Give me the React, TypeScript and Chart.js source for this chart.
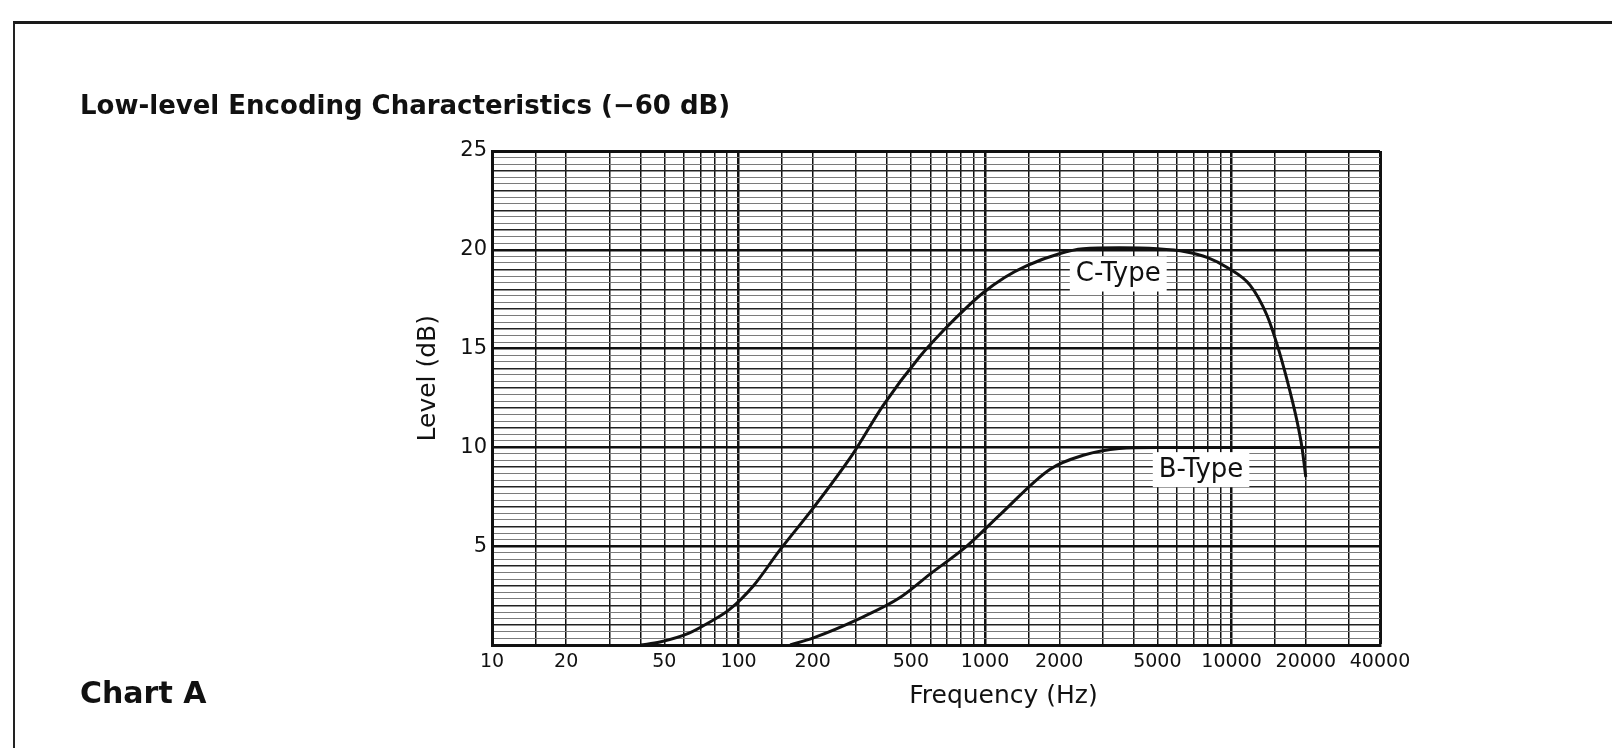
import React, { useEffect, useRef } from 'react';
import { Chart, registerables } from 'chart.js';

Chart.register(...registerables);

// ---- data ----
const C_TYPE_FREQ = [40, 48, 63, 75, 92, 115, 147, 200, 292, 385, 544, 676, 845, 977, 1200, 1480, 2000, 2500, 3500, 5000, 6500, 8000, 9600, 11900, 13900, 15300, 16800, 18450, 19300, 20000];
const C_TYPE_LEVEL = [0, 0.15, 0.6, 1.1, 1.8, 3.0, 4.8, 6.9, 9.7, 12.1, 14.6, 15.9, 17.1, 17.8, 18.6, 19.2, 19.8, 20.05, 20.1, 20.05, 19.9, 19.6, 19.1, 18.2, 16.7, 15.2, 13.4, 11.3, 10.0, 8.5];

const B_TYPE_FREQ = [162, 200, 311, 452, 600, 843, 1151, 1837, 2500, 3500, 5000, 10000, 20000];
const B_TYPE_LEVEL = [0, 0.35, 1.35, 2.4, 3.6, 5.0, 6.6, 8.9, 9.6, 9.95, 10.0, 10.0, 10.0];

const X_TICK_LABELS = [10, 20, 50, 100, 200, 500, 1000, 2000, 5000, 10000, 20000, 40000];
const X_GRID_VALUES = [10, 15, 20, 30, 40, 50, 60, 70, 80, 90, 100, 150, 200, 300, 400, 500, 600, 700, 800, 900, 1000, 1500, 2000, 3000, 4000, 5000, 6000, 7000, 8000, 9000, 10000, 15000, 20000, 30000, 40000];
const X_DECADES = [10, 100, 1000, 10000];
const Y_TICK_LABELS = [5, 10, 15, 20, 25];
const Y_GRID_DIVISIONS_PER_DB = 3;

const CURVE_NAMES = ['C-Type', 'B-Type'];
const CURVE_LABEL_FREQ = [3470, 7520];
const CURVE_LABEL_LEVEL = [18.8, 8.9];

const TITLE = 'Low-level Encoding Characteristics (\u221260 dB)';
const SUBTITLE = 'Chart A';
const X_TITLE = 'Frequency (Hz)';
const Y_TITLE = 'Level (dB)';

const FONT = '"DejaVu Sans", "Liberation Sans", sans-serif';
const INK = '#111111';

const curveLabels = {
  id: 'curveLabels',
  afterDatasetsDraw(chart: any) {
    const { ctx, scales } = chart;
    const xs = scales.x;
    const ys = scales.y;
    ctx.save();
    ctx.font = `26px ${FONT}`;
    ctx.textAlign = 'center';
    ctx.textBaseline = 'middle';
    CURVE_NAMES.forEach((t, i) => {
      const px = xs.getPixelForValue(CURVE_LABEL_FREQ[i]);
      const py = ys.getPixelForValue(CURVE_LABEL_LEVEL[i]);
      const w = ctx.measureText(t).width;
      ctx.fillStyle = '#ffffff';
      ctx.fillRect(px - w / 2 - 6, py - 17, w + 12, 35);
      ctx.fillStyle = INK;
      ctx.fillText(t, px, py + 1);
    });
    ctx.restore();
  },
};

// axis captions, placed relative to the chart area as in the reference
const axisCaptions = {
  id: 'axisCaptions',
  afterDraw(chart: any) {
    const { ctx, chartArea } = chart;
    const w = chartArea.right - chartArea.left;
    const h = chartArea.bottom - chartArea.top;
    ctx.save();
    ctx.font = `25px ${FONT}`;
    ctx.fillStyle = INK;
    ctx.textAlign = 'center';
    ctx.textBaseline = 'middle';
    ctx.fillText(X_TITLE, chartArea.left + w * 0.576, chartArea.bottom + 51);
    ctx.translate(chartArea.left - 64, chartArea.top + h * 0.46);
    ctx.rotate(-Math.PI / 2);
    ctx.fillText(Y_TITLE, 0, 0);
    ctx.restore();
  },
};

function isInt(v: number) {
  return Math.abs(v - Math.round(v)) < 1e-6;
}

export default function App() {
  const ref = useRef<HTMLCanvasElement>(null);

  useEffect(() => {
    if (!ref.current) return;
    Chart.defaults.font.family = FONT;
    Chart.defaults.color = INK;

    const chart = new Chart(ref.current, {
      type: 'line',
      data: {
        datasets: [
          {
            label: CURVE_NAMES[0],
            data: C_TYPE_FREQ.map((f, i) => ({ x: f, y: C_TYPE_LEVEL[i] })),
            borderColor: INK,
            borderWidth: 3,
            pointRadius: 0,
            fill: false,
            cubicInterpolationMode: 'monotone',
          },
          {
            label: CURVE_NAMES[1],
            data: B_TYPE_FREQ.map((f, i) => ({ x: f, y: B_TYPE_LEVEL[i] })),
            borderColor: INK,
            borderWidth: 3,
            pointRadius: 0,
            fill: false,
            cubicInterpolationMode: 'monotone',
          },
        ],
      },
      options: {
        animation: false,
        responsive: false,
        layout: { padding: { left: 80, right: 232, top: 0, bottom: 0 } },
        plugins: {
          legend: { display: false },
          tooltip: { enabled: false },
          title: {
            display: true,
            text: TITLE,
            align: 'start',
            color: INK,
            font: { family: FONT, size: 26, weight: 'bold', lineHeight: 1.2 },
            padding: { top: 91.4, bottom: 28.4 },
          },
          subtitle: {
            display: true,
            text: SUBTITLE,
            position: 'bottom',
            align: 'start',
            color: INK,
            font: { family: FONT, size: 30, weight: 'bold', lineHeight: 1.2 },
            padding: { top: 0, bottom: 34.5 },
          },
        },
        scales: {
          x: {
            type: 'logarithmic',
            min: 10,
            max: 40000,
            afterBuildTicks: (s: any) => {
              s.ticks = X_GRID_VALUES.map((v) => ({ value: v }));
            },
            afterFit: (s: any) => {
              s.height = 32.5;
              s.paddingLeft = 0;
              s.paddingRight = 0;
            },
            ticks: {
              autoSkip: false,
              maxRotation: 0,
              minRotation: 0,
              padding: 6,
              color: INK,
              font: { family: FONT, size: 19 },
              callback: (v: any) => (X_TICK_LABELS.includes(Number(v)) ? String(v) : ''),
            },
            grid: {
              drawTicks: false,
              color: INK,
              lineWidth: (c: any) => {
                const v = c.tick ? c.tick.value : 0;
                if (v === 40000) return 3;
                return X_DECADES.includes(v) ? 2.5 : 1.5;
              },
            },
            border: { display: true, color: INK, width: 3 },
            title: { display: false, text: X_TITLE },
          },
          y: {
            type: 'linear',
            min: 0,
            max: 25,
            afterBuildTicks: (s: any) => {
              const t: any[] = [];
              for (let i = 0; i <= 25 * Y_GRID_DIVISIONS_PER_DB; i++) t.push({ value: i / Y_GRID_DIVISIONS_PER_DB });
              s.ticks = t;
            },
            afterFit: (s: any) => {
              s.width = 412;
              s.paddingTop = 0;
              s.paddingBottom = 0;
            },
            ticks: {
              autoSkip: false,
              padding: 5,
              color: INK,
              font: { family: FONT, size: 21 },
              callback: (v: any) => {
                const n = Number(v);
                return isInt(n) && Y_TICK_LABELS.includes(Math.round(n)) ? String(Math.round(n)) : '';
              },
            },
            grid: {
              drawTicks: false,
              color: (c: any) => {
                const v = c.tick ? c.tick.value : 0;
                if (isInt(v)) return Math.round(v) % 5 === 0 ? INK : '#222222';
                return '#7a7a7a';
              },
              lineWidth: (c: any) => {
                const v = c.tick ? c.tick.value : 0;
                if (Math.abs(v - 25) < 1e-6) return 3;
                if (isInt(v)) return Math.round(v) % 5 === 0 ? 2.5 : 1.5;
                return 1;
              },
            },
            border: { display: true, color: INK, width: 3 },
            title: { display: false, text: Y_TITLE },
          },
        },
      },
      plugins: [curveLabels, axisCaptions],
    } as any);

    return () => chart.destroy();
  }, []);

  return (
    <div style={{ position: 'fixed', left: 0, top: 0, width: 1612, height: 748, background: '#ffffff', overflow: 'hidden' }}>
      <div
        style={{
          position: 'absolute',
          left: 13,
          top: 21,
          width: 1640,
          height: 780,
          borderTop: '3px solid #1a1a1a',
          borderLeft: '2px solid #222222',
          boxSizing: 'border-box',
        }}
      />
      <canvas ref={ref} width={1612} height={748} style={{ position: 'absolute', left: 0, top: 0, width: 1612, height: 748 }} />
    </div>
  );
}
